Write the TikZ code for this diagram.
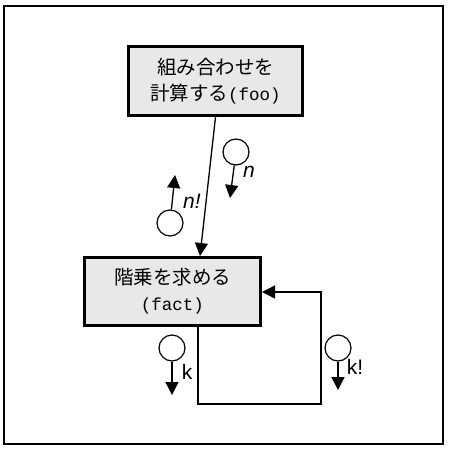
\documentclass[tikz,border=0pt]{standalone}
\usepackage{fontspec}
\setsansfont{Liberation Sans}
\setmonofont{Liberation Mono}
\newfontfamily\jp{Noto Sans CJK JP}
\usetikzlibrary{arrows.meta}
\begin{document}
\begin{tikzpicture}[x=1pt,y=-1pt,
  box/.style={draw,line width=3pt,fill=black!9,minimum width=174pt,minimum height=69pt,
    align=center,inner sep=0pt,font=\jp\fontsize{19.5}{26}\selectfont},
  code/.style={font=\ttfamily\fontsize{17.5}{26}\selectfont},
  ball/.style={draw,circle,line width=1.2pt,minimum size=26pt,inner sep=0pt},
  flow/.style={line width=1.3pt,-{Triangle[length=13pt,width=13pt]}},
  lab/.style={font=\sffamily\fontsize{21}{21}\selectfont,inner sep=0pt}]
\useasboundingbox (0,0) rectangle (450,448);
\draw[line width=2pt] (4,6) rectangle (443,444);
\node[box] (foo) at (215.5,81) {組み合わせを\\計算する{\ttfamily\fontsize{17.5}{26}\selectfont (foo)}};
\node[box,minimum width=176pt,minimum height=68pt] (fact) at (172.5,291.5) {階乗を求める\\{\ttfamily\fontsize{17.5}{26}\selectfont (fact)}};
\coordinate (a) at (200,0);
\draw[flow] (foo.south) -- (fact.north -| a);
\coordinate (fb1) at (198,404);
\coordinate (fb2) at (321,292);
\draw[flow] (fact.south -| fb1) -- (fb1) -| (fb2) -- (fact.east |- fb2);
% n
\node[ball] (cn) at (236,152) {};
\coordinate (tn) at (230,198);
\draw[flow] (cn) -- (tn);
\node[lab,font=\sffamily\itshape\fontsize{21}{21}\selectfont] (ln) at (249,172) {n};
% n!
\node[ball] (cnf) at (170,223) {};
\coordinate (tnf) at (175,175);
\draw[flow] (cnf) -- (tnf);
\node[lab,font=\sffamily\itshape\fontsize{21}{21}\selectfont] (lnf) at (192,201) {n!};
% k
\node[ball] (ck) at (172,348) {};
\coordinate (tk) at (172,395);
\draw[flow] (ck) -- (tk);
\node[lab] (lk) at (187,372) {k};
% k!
\node[ball] (ckf) at (338,348) {};
\coordinate (tkf) at (338,390);
\draw[flow] (ckf) -- (tkf);
\node[lab] (lkf) at (355,367) {k!};
\end{tikzpicture}
\end{document}
